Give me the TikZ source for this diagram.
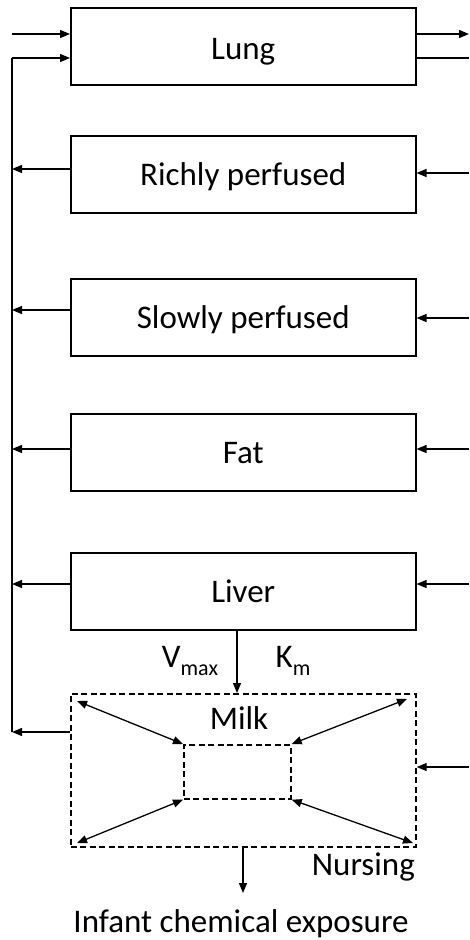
\documentclass[tikz,border=0pt]{standalone}
\usepackage{fontspec}
\setmainfont{Carlito}
\usetikzlibrary{arrows.meta}
\begin{document}
\begin{tikzpicture}[x=1pt,y=-1pt,
  font=\fontsize{33pt}{36pt}\selectfont,
  box/.style={draw,line width=1.5pt,minimum width=345pt,minimum height=77pt,inner sep=0pt,text height=23pt,text depth=0pt,anchor=north west},
  dbox/.style={draw,dash pattern=on 6pt off 3.5pt,line width=1.7pt,inner sep=0pt,anchor=north west},
  conn/.style={line width=1.3pt,-{Triangle[length=10pt,width=8pt]}},
  plain/.style={line width=1.3pt},
  dbl/.style={line width=1.3pt,{Triangle[length=10pt,width=8pt]}-{Triangle[length=10pt,width=8pt]}},
  lbl/.style={inner sep=0pt,anchor=base}]
\useasboundingbox (0,0) rectangle (469,940);
\node[box,text height=27pt] (lung) at (70,7) {Lung};
\node[box] (rich) at (70,135) {Richly perfused};
\node[box] (slow) at (70,278) {Slowly perfused};
\node[box] (fat) at (70,413) {Fat};
\node[box] (liver) at (70,552) {Liver};
\node[dbox,minimum width=345pt,minimum height=153pt] (milkbox) at (70,693) {};
\node[dbox,minimum width=107pt,minimum height=54pt] (inner) at (183,744) {};
\node[lbl] (milk) at (239,729) {Milk};
\node[lbl] (vmax) at (190,667) {V\raisebox{-8pt}{\fontsize{22pt}{24pt}\selectfont max}};
\node[lbl] (km) at (293,667) {K\raisebox{-8pt}{\fontsize{22pt}{24pt}\selectfont m}};
\node[lbl,anchor=base east] (nursing) at (415,875) {Nursing};
\node[lbl] (infant) at (241,932) {Infant chemical exposure};
% free ends
\coordinate (inA) at (12,34);
\coordinate (ven) at (12,58);
\coordinate (outA) at (469,34);
\coordinate (outB) at (469,58);
% lung
\draw[conn] (inA) -- (lung.west |- inA);
\draw[plain] (12,732) -- (ven);
\draw[conn] (ven) -- (lung.west |- ven);
\draw[conn] (lung.east |- outA) -- (outA);
\draw[plain] (lung.east |- outB) -- (outB);
% tissue returns
\draw[conn] (rich.west |- 0,169) -- (12,169);
\draw[conn] (slow.west |- 0,310) -- (12,310);
\draw[conn] (fat.west |- 0,449) -- (12,449);
\draw[conn] (liver.west |- 0,584) -- (12,584);
\draw[conn] (milkbox.west |- 0,732) -- (12,732);
% arterial inputs
\draw[conn] (469,173) -- (rich.east |- 0,173);
\draw[conn] (469,318) -- (slow.east |- 0,318);
\draw[conn] (469,449) -- (fat.east |- 0,449);
\draw[conn] (469,584) -- (liver.east |- 0,584);
\draw[conn] (469,767) -- (milkbox.east |- 0,767);
% liver to milk
\draw[conn] (liver.south -| 237,0) -- (milkbox.north -| 237,0);
% internal double arrows
\draw[dbl] (77,701) -- (inner.north west);
\draw[dbl] (407,699) -- (inner.north east);
\draw[dbl] (77,843) -- (inner.south west);
\draw[dbl] (413,843) -- (inner.south east);
% nursing output
\draw[conn] (milkbox.south -| 243,0) -- (243,893);
\end{tikzpicture}
\end{document}
